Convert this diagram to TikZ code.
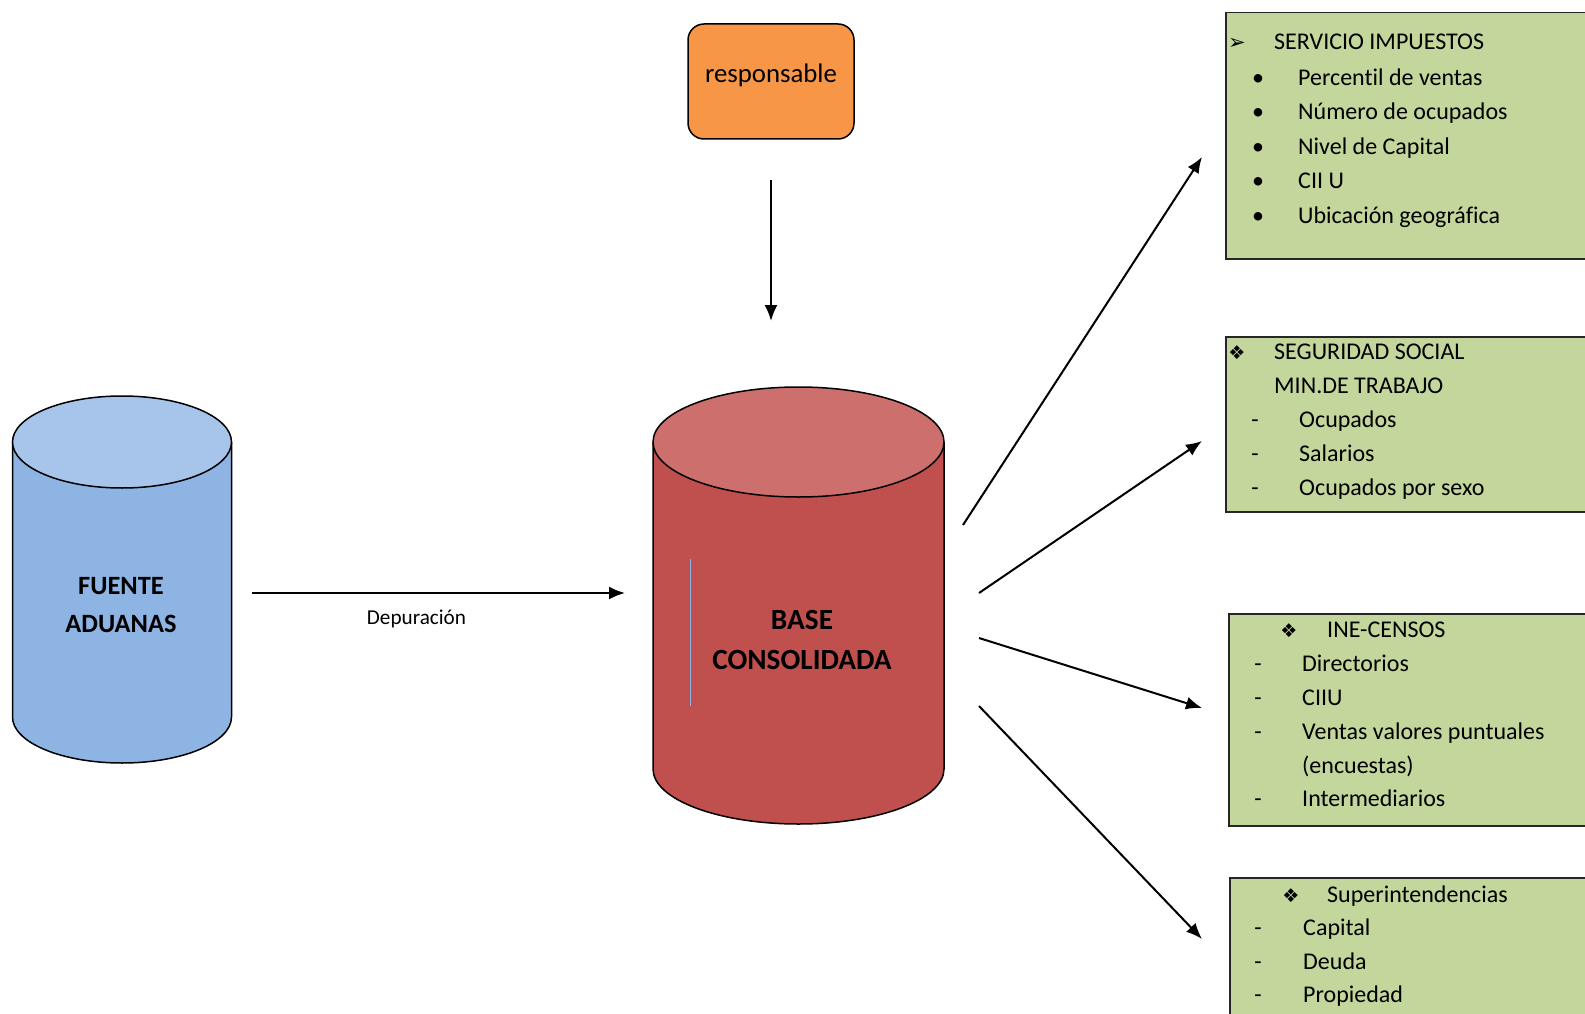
\documentclass[tikz,border=0pt]{standalone}
\usepackage{fontspec}
\setmainfont[Ligatures=NoCommon]{Carlito}
\newfontfamily\symfont{DejaVu Sans}
\usetikzlibrary{arrows.meta}
\definecolor{greenbox}{HTML}{C3D69B}
\definecolor{orangebox}{HTML}{F79646}
\definecolor{blueside}{HTML}{8EB4E3}
\definecolor{bluetop}{HTML}{A7C5EA}
\definecolor{redside}{HTML}{C0504D}
\definecolor{redtop}{HTML}{CD6F6D}
\definecolor{thinblue}{HTML}{8DB3E2}
\begin{document}
\begin{tikzpicture}[x=1pt,y=-1pt,
  greenpanel/.style={draw=black!85,line width=1.5pt,fill=greenbox,anchor=north west,inner sep=0pt},
  itemtext/.style={anchor=base west,inner sep=0pt,font=\fontsize{24}{28}\selectfont},
  bul/.style={anchor=base,inner sep=0pt,font=\fontsize{24}{28}\selectfont},
  symb/.style={anchor=base,inner sep=0pt,font=\symfont\fontsize{19}{22}\selectfont},
  conn/.style={line width=2pt,-{Latex[length=16pt,width=13pt]}},
  cylline/.style={line width=1.5pt,draw=black}]
\fill[white] (0,0) rectangle (1585,1014);
\useasboundingbox (0,0) rectangle (1585,1014);

% ---------- green panels ----------
\node[greenpanel,minimum width=380pt,minimum height=246pt] (p1) at (1225,12) {};
\node[greenpanel,minimum width=380pt,minimum height=175pt] (p2) at (1225,336) {};
\node[greenpanel,minimum width=380pt,minimum height=212pt] (p3) at (1228,613) {};
\node[greenpanel,minimum width=380pt,minimum height=160pt] (p4) at (1229,877) {};

% panel 1
\node[symb,font=\symfont\fontsize{21}{24}\selectfont] (p1s) at (1237,50) {➢};
\node[itemtext] (p1h) at (1274,50) {SERVICIO IMPUESTOS};
\node[bul] (p1b1) at (1258,85.5) {•};
\node[itemtext] (p1t1) at (1298,85.5) {Percentil de ventas};
\node[bul] (p1b2) at (1258,120) {•};
\node[itemtext] (p1t2) at (1298,120) {Número de ocupados};
\node[bul] (p1b3) at (1258,154.5) {•};
\node[itemtext] (p1t3) at (1298,154.5) {Nivel de Capital};
\node[bul] (p1b4) at (1258,189) {•};
\node[itemtext] (p1t4) at (1298,189) {CII U};
\node[bul] (p1b5) at (1258,223) {•};
\node[itemtext] (p1t5) at (1298,223) {Ubicación geográfica};

% panel 2
\node[symb] (p2s) at (1237,359) {❖};
\node[itemtext] (p2h) at (1274,359.5) {SEGURIDAD SOCIAL};
\node[itemtext] (p2h2) at (1274,393.5) {MIN.DE TRABAJO};
\node[bul] (p2b1) at (1255,427) {-};
\node[itemtext] (p2t1) at (1299,427) {Ocupados};
\node[bul] (p2b2) at (1255,461) {-};
\node[itemtext] (p2t2) at (1299,461) {Salarios};
\node[bul] (p2b3) at (1255,495) {-};
\node[itemtext] (p2t3) at (1299,495) {Ocupados por sexo};

% panel 3
\node[symb] (p3s) at (1289,637) {❖};
\node[itemtext] (p3h) at (1327,637) {INE-CENSOS};
\node[bul] (p3b1) at (1258,671.5) {-};
\node[itemtext] (p3t1) at (1302,671.5) {Directorios};
\node[bul] (p3b2) at (1258,705.5) {-};
\node[itemtext] (p3t2) at (1302,705.5) {CIIU};
\node[bul] (p3b3) at (1258,739.5) {-};
\node[itemtext] (p3t3) at (1302,739.5) {Ventas valores puntuales};
\node[itemtext] (p3t3b) at (1302,773) {(encuestas)};
\node[bul] (p3b4) at (1258,806) {-};
\node[itemtext] (p3t4) at (1302,806) {Intermediarios};

% panel 4
\node[symb] (p4s) at (1291,902) {❖};
\node[itemtext] (p4h) at (1327,902) {Superintendencias};
\node[bul] (p4b1) at (1258,935) {-};
\node[itemtext] (p4t1) at (1303,935) {Capital};
\node[bul] (p4b2) at (1258,969) {-};
\node[itemtext] (p4t2) at (1303,969) {Deuda};
\node[bul] (p4b3) at (1258,1002) {-};
\node[itemtext] (p4t3) at (1303,1002) {Propiedad};

% ---------- responsable ----------
\node[draw=black,line width=1.5pt,fill=orangebox,rounded corners=16pt,
      minimum width=166pt,minimum height=115pt,inner sep=0pt] (resp) at (771,81.5) {};
\node[inner sep=0pt,font=\fontsize{26.8}{30}\selectfont] (resptext) at (771,75) {responsable};

% ---------- FUENTE ADUANAS cylinder ----------
\fill[blueside] (12.5,442) -- (12.5,717) arc[start angle=180,end angle=360,x radius=109.5pt,y radius=46pt] -- (231.5,442) -- cycle;
\draw[cylline] (12.5,442) -- (12.5,717) arc[start angle=180,end angle=360,x radius=109.5pt,y radius=46pt] -- (231.5,442);
\filldraw[cylline,fill=bluetop] (122,442) ellipse[x radius=109.5pt,y radius=46pt];
\node[inner sep=0pt,align=center,font=\bfseries\fontsize{26.4}{37.5}\selectfont] (fuente) at (121,605) {FUENTE\\ADUANAS};

% ---------- BASE CONSOLIDADA cylinder ----------
\fill[redside] (653,442) -- (653,769) arc[start angle=180,end angle=360,x radius=145.5pt,y radius=55pt] -- (944,442) -- cycle;
\draw[cylline] (653,442) -- (653,769) arc[start angle=180,end angle=360,x radius=145.5pt,y radius=55pt] -- (944,442);
\filldraw[cylline,fill=redtop] (798.5,442) ellipse[x radius=145.5pt,y radius=55pt];
\draw[thinblue,line width=1pt] (690.5,559) -- (690.5,706);
\node[inner sep=0pt,align=center,font=\bfseries\fontsize{29.3}{40.5}\selectfont] (base) at (802,640) {BASE\\CONSOLIDADA};

% ---------- connectors ----------
\coordinate (downS) at (771,180);
\coordinate (downE) at (771,321);
\draw[conn] (downS) -- (downE);

\coordinate (depS) at (252,593);
\coordinate (depE) at (625,593);
\draw[conn] (depS) -- (depE);
\node[inner sep=0pt,font=\fontsize{21.2}{24}\selectfont] (dep) at (416.5,618.5) {Depuración};

\coordinate (a1s) at (963,525);
\coordinate (a1e) at (1202,157);
\coordinate (a2s) at (979,593);
\coordinate (a2e) at (1202,441);
\coordinate (a3s) at (979,638);
\coordinate (a3e) at (1202,708);
\coordinate (a4s) at (979,706);
\coordinate (a4e) at (1202,939);
\draw[conn] (a1s) -- (a1e);
\draw[conn] (a2s) -- (a2e);
\draw[conn] (a3s) -- (a3e);
\draw[conn] (a4s) -- (a4e);
\end{tikzpicture}
\end{document}
